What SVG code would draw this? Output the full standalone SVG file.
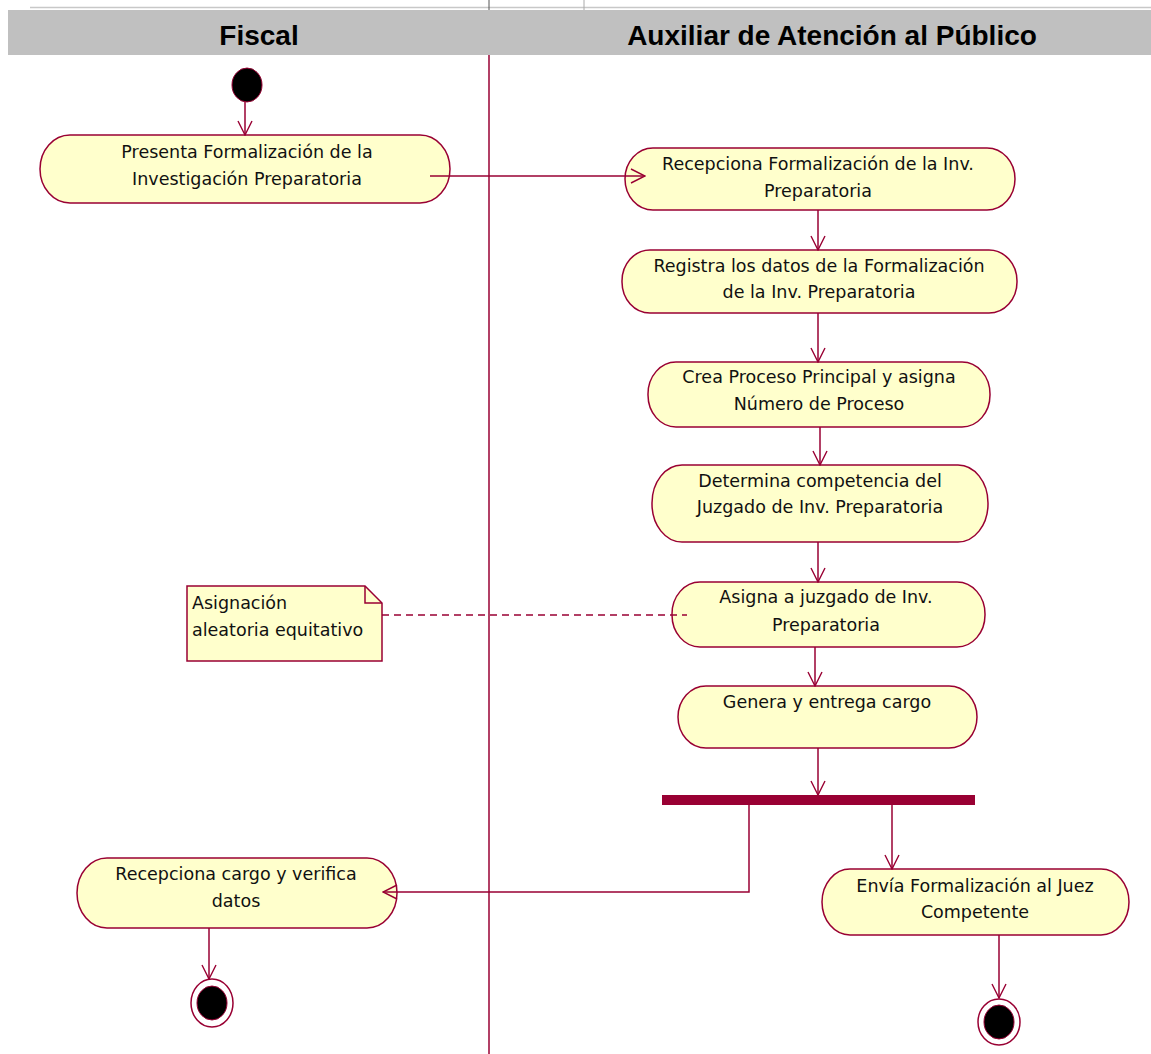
<svg xmlns="http://www.w3.org/2000/svg" width="1151" height="1054" viewBox="0 0 1151 1054">
<style>
.act{fill:#ffffcc;stroke:#990033;stroke-width:1.5}
.t{font-family:"DejaVu Sans","Liberation Sans",Arial,sans-serif;font-size:17.5px;fill:#111;text-anchor:middle}
.tl{font-family:"DejaVu Sans","Liberation Sans",Arial,sans-serif;font-size:17.5px;fill:#111}
.hdr{font-family:"Liberation Sans",Arial,sans-serif;font-size:28px;font-weight:bold;fill:#000;text-anchor:middle}
.e{fill:none;stroke:#990033;stroke-width:1.5;marker-end:url(#arr)}
</style>
<defs>
<marker id="arr" viewBox="0 0 16 16" refX="15" refY="8" markerWidth="16" markerHeight="16" markerUnits="userSpaceOnUse" orient="auto">
<path d="M1,1 L15,8 L1,15" fill="none" stroke="#990033" stroke-width="1.4"/>
</marker>
</defs>
<rect x="0" y="0" width="1151" height="1054" fill="#ffffff"/>
<g id="swimlanes">
<line x1="30" y1="7.5" x2="1151" y2="7.5" stroke="#c8c8c8" stroke-width="1.5"/>
<line x1="489" y1="0" x2="489" y2="10" stroke="#555" stroke-width="1"/>
<line x1="584" y1="0" x2="584" y2="10" stroke="#aaa" stroke-width="1"/>
<rect x="8" y="10" width="1143" height="45" fill="#c0c0c0"/>
<text class="hdr" x="259" y="45">Fiscal</text>
<text class="hdr" x="832" y="45">Auxiliar de Atención al Público</text>
<line x1="489" y1="55" x2="489" y2="1054" stroke="#990033" stroke-width="1.5"/>
</g>
<g id="start">
<ellipse cx="247" cy="85" rx="15" ry="17" fill="#000" stroke="#990033" stroke-width="1"/>
</g>
<g id="n1">
<rect class="act" x="40" y="135" width="410" height="68" rx="30" ry="34"/>
<text class="t" x="247" y="158">Presenta Formalización  de la</text>
<text class="t" x="247" y="185">Investigación Preparatoria</text>
</g>
<g id="n2">
<rect class="act" x="625" y="148" width="390" height="62" rx="28" ry="31"/>
<text class="t" x="818" y="170">Recepciona Formalización de la Inv.</text>
<text class="t" x="818" y="197">Preparatoria</text>
</g>
<g id="n3">
<rect class="act" x="622" y="250" width="395" height="63" rx="28" ry="31"/>
<text class="t" x="819" y="272">Registra los datos de la Formalización</text>
<text class="t" x="819" y="298">de la Inv. Preparatoria</text>
</g>
<g id="n4">
<rect class="act" x="648" y="362" width="342" height="65" rx="28" ry="32"/>
<text class="t" x="819" y="383">Crea Proceso Principal y asigna</text>
<text class="t" x="819" y="410">Número de Proceso</text>
</g>
<g id="n5">
<rect class="act" x="652" y="465" width="336" height="77" rx="30" ry="38"/>
<text class="t" x="820" y="487">Determina competencia del</text>
<text class="t" x="820" y="513">Juzgado de Inv. Preparatoria</text>
</g>
<g id="note">
<path d="M187,586 H365 L382,603 V661 H187 Z" fill="#ffffcc" stroke="#990033" stroke-width="1.5"/>
<path d="M365,586 V603 H382" fill="none" stroke="#990033" stroke-width="1.5"/>
<text class="tl" x="192" y="609">Asignación</text>
<text class="tl" x="192" y="636">aleatoria equitativo</text>
</g>
<g id="n6">
<rect class="act" x="672" y="582" width="313" height="65" rx="28" ry="32"/>
<text class="t" x="826" y="603">Asigna a juzgado de Inv.</text>
<text class="t" x="826" y="631">Preparatoria</text>
</g>
<g id="n7">
<rect class="act" x="678" y="686" width="299" height="62" rx="28" ry="31"/>
<text class="t" x="827" y="708">Genera y entrega cargo</text>
</g>
<g id="fork">
<rect x="662" y="795" width="313" height="10" fill="#990033"/>
</g>
<g id="n8">
<rect class="act" x="822" y="869" width="307" height="66" rx="28" ry="33"/>
<text class="t" x="975" y="892">Envía Formalización al Juez</text>
<text class="t" x="975" y="918">Competente</text>
</g>
<g id="n9">
<rect class="act" x="77" y="858" width="320" height="70" rx="30" ry="35"/>
<text class="t" x="236" y="880">Recepciona cargo y verifica</text>
<text class="t" x="236" y="907">datos</text>
</g>
<g id="end1">
<ellipse cx="212" cy="1003" rx="21" ry="24" fill="#fff" stroke="#990033" stroke-width="1.5"/>
<ellipse cx="212" cy="1003" rx="15" ry="17" fill="#000" stroke="#990033" stroke-width="1"/>
</g>
<g id="end2">
<ellipse cx="999" cy="1022" rx="21" ry="23" fill="#fff" stroke="#990033" stroke-width="1.5"/>
<ellipse cx="999" cy="1022" rx="15" ry="17" fill="#000" stroke="#990033" stroke-width="1"/>
</g>
<g id="connectors">
<line class="e" x1="245" y1="102" x2="245" y2="135"/>
<line class="e" x1="430" y1="176" x2="645" y2="176"/>
<line class="e" x1="818" y1="210" x2="818" y2="250"/>
<line class="e" x1="818" y1="313" x2="818" y2="362"/>
<line class="e" x1="820" y1="427" x2="820" y2="465"/>
<line class="e" x1="818" y1="542" x2="818" y2="582"/>
<line class="e" x1="815" y1="647" x2="815" y2="686"/>
<line class="e" x1="818" y1="748" x2="818" y2="795"/>
<line class="e" x1="892" y1="805" x2="892" y2="869"/>
<path class="e" d="M749,805 V892 H383"/>
<line class="e" x1="999" y1="935" x2="999" y2="998"/>
<line class="e" x1="209" y1="928" x2="209" y2="979"/>
<line x1="382" y1="615" x2="687" y2="615" stroke="#990033" stroke-width="1.3" stroke-dasharray="7,5"/>
</g>
</svg>
